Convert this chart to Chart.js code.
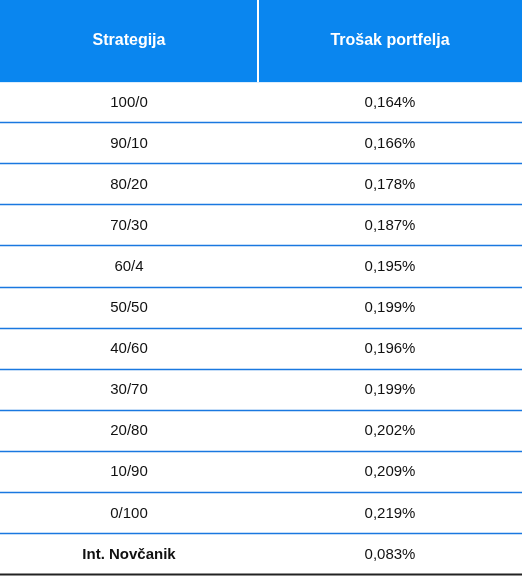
<!DOCTYPE html>
<html><head><meta charset="utf-8">
<script src="https://cdn.jsdelivr.net/npm/chart.js@4"></script>
<style>html,body{margin:0;padding:0;background:#fff}#w{width:522px;height:583px}</style>
</head><body><div id="w"><canvas id="c"></canvas></div>
<script>
const headers = ['Strategija', 'Trošak portfelja'];
const strategies = ['100/0','90/10','80/20','70/30','60/4','50/50','40/60','30/70','20/80','10/90','0/100','Int. Novčanik'];
const costs = ['0,164%','0,166%','0,178%','0,187%','0,195%','0,199%','0,196%','0,199%','0,202%','0,209%','0,219%','0,083%'];
const slots = ['h1','h2'].concat(strategies);

const tablePlugin = {
  id: 'table',
  afterDraw(chart) {
    const ctx = chart.ctx, x = chart.scales.x, y = chart.scales.y;
    const rowH = (y.bottom - y.top) / slots.length;
    const left = x.left, right = x.right, mid = (x.getPixelForValue(0) + x.getPixelForValue(1)) / 2 - 3;
    ctx.save();
    // header
    const hTop = y.getPixelForValue(0) - rowH / 2, hBot = y.getPixelForValue(1) + rowH / 2;
    ctx.fillStyle = '#0a86ef';
    ctx.fillRect(left, hTop, right - left, hBot - hTop);
    ctx.fillStyle = '#fff';
    ctx.fillRect(mid - 1, hTop, 2, hBot - hTop);
    ctx.font = 'bold 16px "Liberation Sans", Arial, sans-serif';
    ctx.textAlign = 'center'; ctx.textBaseline = 'middle';
    const hc = (hTop + hBot) / 2;
    ctx.fillText(headers[0], (left + mid) / 2, hc);
    ctx.fillText(headers[1], (mid + right) / 2, hc);
    // rows
    strategies.forEach((s, i) => {
      const yc = y.getPixelForValue(i + 2);
      const last = i === strategies.length - 1;
      ctx.fillStyle = '#111';
      ctx.font = (last ? 'bold ' : '') + '15px "Liberation Sans", Arial, sans-serif';
      ctx.fillText(s, (left + mid) / 2, yc);
      ctx.font = '15px "Liberation Sans", Arial, sans-serif';
      ctx.fillText(costs[i], (mid + right) / 2, yc);
      ctx.strokeStyle = last ? '#222' : '#1a78e0';
      ctx.lineWidth = last ? 2 : 1.5;
      const yb = Math.round(yc + rowH / 2) - 0.5;
      ctx.beginPath(); ctx.moveTo(left, yb); ctx.lineTo(right, yb); ctx.stroke();
    });
    ctx.restore();
  }
};

new Chart(document.getElementById('c'), {
  type: 'bar',
  data: { labels: headers, datasets: [] },
  options: {
    responsive: true, maintainAspectRatio: false, animation: false,
    layout: { padding: { left: 0, right: 0, top: 0, bottom: 8 } },
    plugins: { legend: { display: false }, tooltip: { enabled: false } },
    scales: {
      x: { type: 'category', labels: headers, display: false, offset: true },
      y: { type: 'category', labels: slots, display: false, offset: true }
    }
  },
  plugins: [tablePlugin]
});
</script></body></html>
